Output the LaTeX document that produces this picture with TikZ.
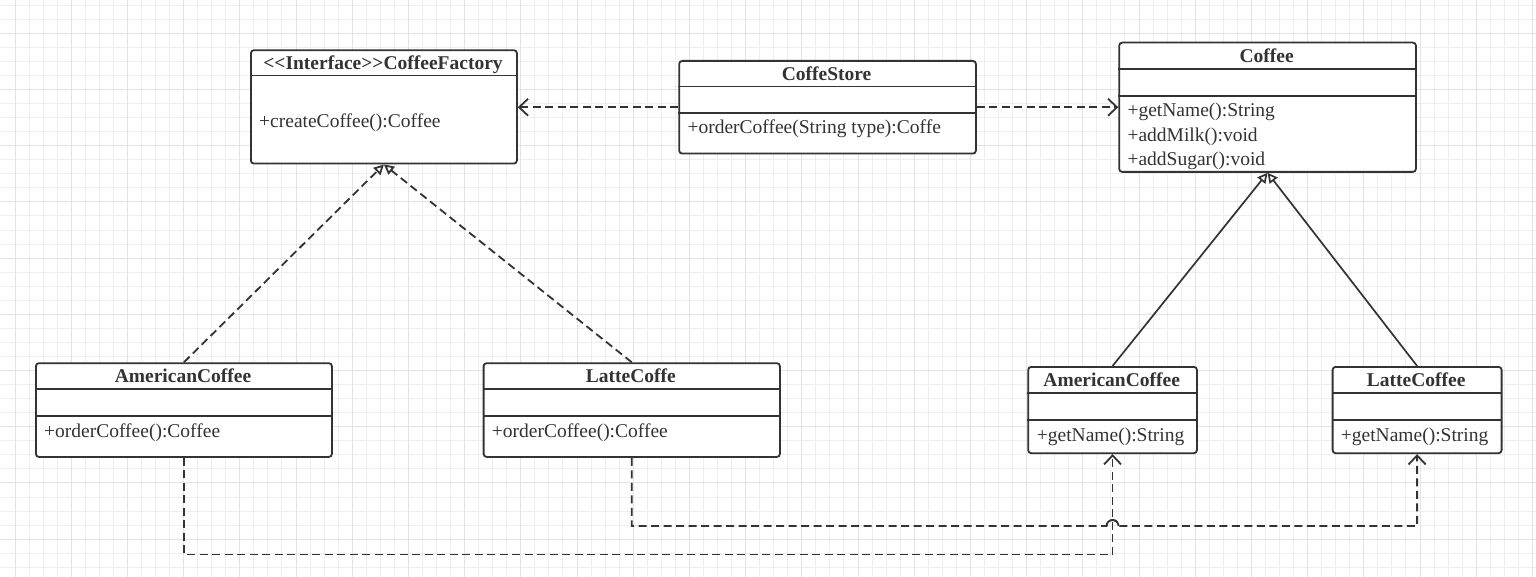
\documentclass[tikz,border=0pt]{standalone}
\usepackage{fontspec}
\setmainfont{Liberation Serif}
\usetikzlibrary{arrows.meta}
\definecolor{linec}{HTML}{333333}
\definecolor{txtc}{HTML}{333333}
\definecolor{gridmin}{HTML}{EEEEEE}
\definecolor{gridmaj}{HTML}{E4E4E4}
\tikzset{
  classbox/.style={draw=linec, line width=1.8pt, rounded corners=3pt, fill=white, inner sep=0pt, anchor=north west},
  sepline/.style={draw=linec, line width=1.6pt},
  ctitle/.style={font=\bfseries\fontsize{19.5pt}{22pt}\selectfont, text=txtc, anchor=base, inner sep=0pt},
  cmeth/.style={font=\fontsize{19.5pt}{22pt}\selectfont, text=txtc, anchor=base west, inner sep=0pt},
  depline/.style={draw=linec, line width=1.8pt, dash pattern=on 8pt off 4.5pt, -{Straight Barb[length=9pt,width=17pt]}},
  realdash/.style={draw=linec, line width=1.8pt, dash pattern=on 8pt off 4.5pt, -{Triangle[fill=white,length=10pt,width=10pt]}},
  inhline/.style={draw=linec, line width=1.7pt, -{Triangle[fill=white,length=10pt,width=10pt]}},
  hopline/.style={draw=linec, line width=1.8pt},
  gminor/.style={draw=gridmin, line width=1pt},
  gmajor/.style={draw=gridmaj, line width=1pt}
}
\begin{document}
\begin{tikzpicture}[x=1pt,y=-1pt]
\useasboundingbox (0,0) rectangle (1536,577);
\fill[white] (0,0) rectangle (1536,577);
% grid
\foreach \i in {0,...,108} \draw[gminor] ({15+14.05*\i},0) -- ++(0,577);
\foreach \j in {-1,...,40} \draw[gminor] (0,{19.3+14.05*\j}) -- ++(1536,0);
\foreach \i in {0,...,27} \draw[gmajor] ({15+56.2*\i},0) -- ++(0,577);
\foreach \j in {0,...,10} \draw[gmajor] (0,{33.35+56.2*\j}) -- ++(1536,0);

% CoffeeFactory interface
\node[classbox, minimum width=266pt, minimum height=113.4pt] (cf) at (250,49.3) {};
\draw[sepline] (250,75.7) -- (516,75.7);
\node[ctitle] (cft) at (383,69.5) {<\kern0pt<Interface>\kern0pt>CoffeeFactory};
\node[cmeth] (cfm) at (259,127.3) {+createCoffee():Coffee};

% CoffeStore
\node[classbox, minimum width=296.7pt, minimum height=92.7pt] (cs) at (678.3,60) {};
\draw[sepline] (678.3,86.7) -- (975,86.7);
\draw[sepline] (678.3,113.3) -- (975,113.3);
\node[ctitle] (cst) at (826.6,80.7) {CoffeStore};
\node[cmeth] (csm) at (687.3,134) {+orderCoffee(String type):Coffe};

% Coffee
\node[classbox, minimum width=296.7pt, minimum height=129.3pt] (co) at (1118.3,41.7) {};
\draw[sepline] (1118.3,69) -- (1415,69);
\draw[sepline] (1118.3,96) -- (1415,96);
\node[ctitle] (cot) at (1266.6,62.3) {Coffee};
\node[cmeth] (com1) at (1127.3,116.7) {+getName():String};
\node[cmeth] (com2) at (1127.3,141.2) {+addMilk():void};
\node[cmeth] (com3) at (1127.3,165.7) {+addSugar():void};

% AmericanCoffee (left)
\node[classbox, minimum width=296pt, minimum height=93.7pt] (ac1) at (35,362.3) {};
\draw[sepline] (35,389) -- (331,389);
\draw[sepline] (35,416) -- (331,416);
\node[ctitle] (ac1t) at (183,382.7) {AmericanCoffee};
\node[cmeth] (ac1m) at (44,437.3) {+orderCoffee():Coffee};

% LatteCoffe (left)
\node[classbox, minimum width=296.3pt, minimum height=93.7pt] (lc1) at (482.7,362.3) {};
\draw[sepline] (482.7,389) -- (779,389);
\draw[sepline] (482.7,416) -- (779,416);
\node[ctitle] (lc1t) at (630.9,382.7) {LatteCoffe};
\node[cmeth] (lc1m) at (491.7,437.3) {+orderCoffee():Coffee};

% AmericanCoffee (right)
\node[classbox, minimum width=168.7pt, minimum height=86.3pt] (ac2) at (1027.3,366) {};
\draw[sepline] (1027.3,392.7) -- (1196,392.7);
\draw[sepline] (1027.3,420) -- (1196,420);
\node[ctitle] (ac2t) at (1111.7,386.7) {AmericanCoffee};
\node[cmeth] (ac2m) at (1036.7,441) {+getName():String};

% LatteCoffee (right)
\node[classbox, minimum width=169pt, minimum height=86.3pt] (lc2) at (1331.7,366) {};
\draw[sepline] (1331.7,392.7) -- (1500.7,392.7);
\draw[sepline] (1331.7,420) -- (1500.7,420);
\node[ctitle] (lc2t) at (1416.2,386.7) {LatteCoffee};
\node[cmeth] (lc2m) at (1340.7,441) {+getName():String};

% dependencies from CoffeStore
\draw[depline] (cs.west) -- (cs.west -| cf.east);
\draw[depline] (cs.east) -- (cs.east -| co.west);

% realizations
\draw[realdash] (ac1.north) -- (cf.south);
\draw[realdash] (lc1.north) -- (cf.south);

% generalizations
\draw[inhline] (ac2.north) -- (co.south);
\draw[inhline] (lc2.north) -- (co.south);

% lower dependencies
\coordinate (yb) at (0,554.5);
\coordinate (ya) at (0,526);
\coordinate (jx) at (ac2.south |- ya);
\draw[depline] (ac1.south) |- (ac2.south |- yb) -- (ac2.south);
\draw[depline] (lc1.south) |- ([xshift=-6pt]jx) arc[start angle=180,end angle=0,radius=6pt] -| (lc2.south);
\draw[hopline] ([xshift=-6pt]jx) arc[start angle=180,end angle=0,radius=6pt];
\end{tikzpicture}
\end{document}
